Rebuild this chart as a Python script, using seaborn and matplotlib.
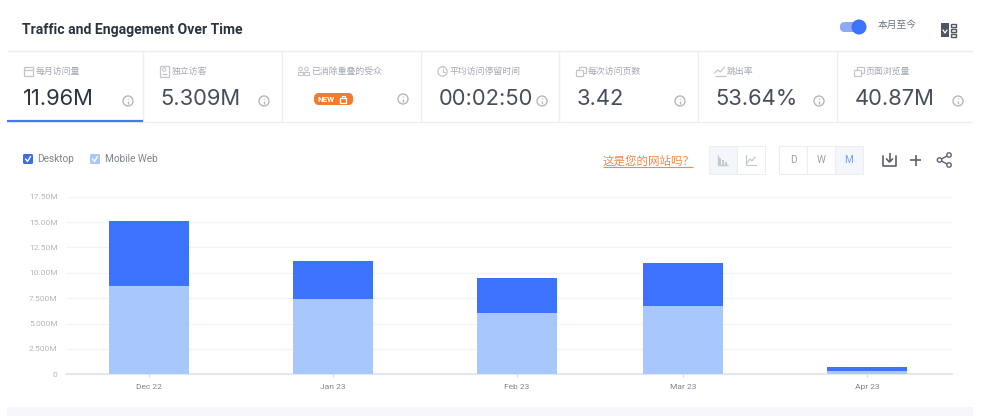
import matplotlib
matplotlib.use('Agg')
import matplotlib.pyplot as plt
import numpy as np
import pandas as pd
import seaborn as sns
from matplotlib.patches import Circle, FancyBboxPatch, Rectangle

# values, in millions
months = ['2022-12-01', '2023-01-01', '2023-02-01', '2023-03-01', '2023-04-01']
month_labels = ['Dec 22', 'Jan 23', 'Feb 23', 'Mar 23', 'Apr 23']
mobile_web = [8.73, 7.44, 6.00, 6.70, 0.36]
desktop = [6.42, 3.71, 3.50, 4.22, 0.33]
y_ticks = [0, 2.5, 5, 7.5, 10, 12.5, 15, 17.5]
y_tick_labels = ['0', '2.500M', '5.000M', '7.500M', '10.00M', '12.50M', '15.00M', '17.50M']

metric_names = ['每月访问量', '独立访客', '已消除重叠的受众', '平均访问停留时间', '每次访问页数', '跳出率', '页面浏览量']
metric_values = ['11.96M', '5.309M', '', '00:02:50', '3.42', '53.64%', '40.87M']

BLUE = '#3d72fe'
LIGHT = '#a8c7fd'
GREY = '#a3a9b2'
DARK = '#454e5c'
ICON = '#c3c7cc'

sns.set_theme(style='white')
plt.rcParams['font.family'] = ['Roboto', 'Noto Sans CJK SC', 'DejaVu Sans']

W, H = 1005, 416
fig = plt.figure(figsize=(W / 100, H / 100), dpi=100, facecolor='white')

# page furniture, in pixel coordinates
ui = fig.add_axes([0, 0, 1, 1])
ui.set_xlim(0, W)
ui.set_ylim(H, 0)
ui.axis('off')


def line(x0, y0, x1, y1, color='#eceef1', lw=1.0, **kw):
    ui.plot([x0, x1], [y0, y1], color=color, lw=lw, solid_capstyle='butt', **kw)


def box(x, y, w, h, color, pad=1.5, ec='none'):
    ui.add_patch(FancyBboxPatch((x + pad, y + pad), w - 2 * pad, h - 2 * pad,
                                boxstyle='round,pad=%s' % pad, fc=color, ec=ec, lw=0.8))


def info(x, y):
    ui.add_patch(Circle((x, y), 5, fc='none', ec='#b4b8bd', lw=1))
    line(x, y - 0.5, x, y + 2.5, color='#b4b8bd', lw=1)
    line(x, y - 2.6, x, y - 1.6, color='#b4b8bd', lw=1)


def card_icon(kind, x):
    # x is the left edge of the icon, all of them sit around y=71
    if kind == 'calendar':
        ui.add_patch(Rectangle((x, 67), 9.5, 9, fc='none', ec=ICON, lw=0.9))
        line(x, 69.5, x + 9.5, 69.5, color=ICON, lw=0.9)
    elif kind == 'person':
        ui.add_patch(Rectangle((x, 65.5), 9.5, 11, fc='none', ec=ICON, lw=0.9))
        ui.add_patch(Circle((x + 4.75, 69.5), 1.7, fc='none', ec=ICON, lw=0.8))
        line(x + 2, 74, x + 7.5, 74, color=ICON, lw=0.9)
    elif kind == 'people':
        for dx in (2, 8):
            ui.add_patch(Circle((x + dx, 69), 1.8, fc='none', ec=ICON, lw=0.8))
            ui.add_patch(Rectangle((x + dx - 2.3, 72), 4.6, 2.6, fc='none', ec=ICON, lw=0.8))
    elif kind == 'clock':
        ui.add_patch(Circle((x + 5, 71.5), 4.6, fc='none', ec=ICON, lw=0.9))
        ui.plot([x + 5, x + 5, x + 7], [68.8, 71.5, 71.5], color=ICON, lw=0.8)
        line(x + 3.5, 65.8, x + 6.5, 65.8, color=ICON, lw=0.9)
    elif kind == 'pages':
        ui.add_patch(Rectangle((x + 3, 66.5), 7, 6.5, fc='none', ec=ICON, lw=0.9))
        ui.add_patch(Rectangle((x, 69.5), 7, 6.5, fc='white', ec=ICON, lw=0.9, zorder=3))
    else:
        ui.plot([x, x + 3.5, x + 6, x + 10], [73, 70, 72, 67], color=ICON, lw=0.9)
        line(x, 75.5, x + 11, 75.5, color=ICON, lw=0.9)


ui.text(22, 30, 'Traffic and Engagement Over Time', fontsize=10.1, fontweight='bold',
        color='#2a3340', va='center')

# metric cards
line(7, 50.5, 973, 50.5)
line(7, 121.5, 973, 121.5)
cards = [7, 143, 282, 421, 559, 698, 837]
icons = ['calendar', 'person', 'people', 'clock', 'pages', 'trend', 'pages']
for card_x, name, value, icon in zip(cards, metric_names, metric_values, icons):
    if card_x > 7:
        line(card_x, 51, card_x, 121)
    card_icon(icon, card_x + 16.5)
    ui.text(card_x + 29, 71, name, fontsize=6.4, color=GREY, va='center')
    if value:
        ui.text(card_x + (15.5 if card_x == 7 else 17.5), 99, value, fontsize=15.8,
                color='#2b3442' if card_x == 7 else DARK, va='center', family=['Inter', 'DejaVu Sans'])
    info(card_x + 121, 101 if card_x != 282 else 99)
line(7, 121, 143, 121, color='#4a78e8', lw=1.6)

box(314, 93, 39, 12, '#f47b2b', pad=5)
ui.text(326, 99, 'NEW', fontsize=5.8, fontweight='bold', color='white', va='center', ha='center')
ui.add_patch(Rectangle((340, 97.5), 6, 5, fc='none', ec='white', lw=0.9))
ui.plot([341.5, 341.5, 344.5, 344.5], [97.5, 95.5, 95.5, 97.5], color='white', lw=0.8)

# toggle and export button
box(840, 22, 22, 10, '#8fa9f7', pad=4.5)
ui.add_patch(Circle((859, 27), 7.5, fc=BLUE, ec='none'))
ui.text(878, 25, '本月至今', fontsize=7, color='#6c7480', va='center')
ui.add_patch(Rectangle((941, 23), 8, 14, fc='#4b5563', ec='none'))
ui.plot([943, 945, 947], [30, 33, 30], color='white', lw=0.9)
for yy in (25, 30, 35):
    ui.add_patch(Rectangle((951, yy - 1.5), 5, 3, fc='none', ec='#4b5563', lw=1))

# legend
box(23, 154, 10, 10, '#3a6fe0')
ui.plot([25.5, 27.5, 30.5], [159, 161.5, 156.5], color='white', lw=1)
ui.text(37.5, 159, 'Desktop', fontsize=7.2, color='#7d848e', va='center')
box(90, 154, 10, 10, LIGHT)
ui.plot([92.5, 94.5, 97.5], [159, 161.5, 156.5], color='white', lw=1)
ui.text(105, 159, 'Mobile Web', fontsize=7.2, color='#7d848e', va='center')

# right hand controls
ui.text(603, 161, '这是您的网站吗？', fontsize=8.3, color='#ee8a4c', va='center')
line(603, 166.5, 693, 166.5, color='#ee8a4c', lw=0.8)
ui.add_patch(Rectangle((709, 146), 28, 28, fc='#f3f6fb', ec='#eceef2', lw=0.8))
ui.add_patch(Rectangle((737, 146), 28, 28, fc='white', ec='#eceef2', lw=0.8))
line(718, 155, 718, 165, color='#c4c9d0')
line(718, 165, 728, 165, color='#c4c9d0')
for bx, bh in zip((720, 723, 726), (7, 5, 3)):
    line(bx, 165, bx, 165 - bh, color='#c4c9d0', lw=1.4)
ui.plot([746, 746, 756], [155, 165, 165], color='#c4c9d0', lw=0.9)
ui.plot([747, 750, 752, 755], [163, 159, 161, 157], color='#c4c9d0', lw=0.9)
for i, (letter, col) in enumerate(zip('DWM', ['#9aa0a8', '#9aa0a8', '#7f9cf5'])):
    bx = 779 + i * 28
    ui.add_patch(Rectangle((bx, 146), 28, 28, fc='#f3f6fb' if letter == 'M' else 'white',
                           ec='#eceef2', lw=0.8))
    ui.text(bx + 14, 160, letter, fontsize=7.2, color=col, va='center', ha='center')

ui.plot([883, 883, 896, 896], [156, 166, 166, 156], color='#5a626e', lw=1.2)
line(889.5, 153, 889.5, 162, color='#5a626e', lw=1.2)
ui.plot([886.5, 889.5, 892.5], [159, 162, 159], color='#5a626e', lw=1.2)
line(910, 160, 921, 160, color='#5a626e', lw=1.2)
line(915.5, 154.5, 915.5, 165.5, color='#5a626e', lw=1.2)
ui.plot([949, 939.5, 949], [155, 160, 165], color='#5a626e', lw=1)
for sx, sy in ((949, 155), (939.5, 160), (949, 165)):
    ui.add_patch(Circle((sx, sy), 2.2, fc='white', ec='#5a626e', lw=1, zorder=3))

ui.add_patch(Rectangle((7, 407), 966, 9, fc='#f5f7fb', ec='none'))

# the chart
dates = pd.to_datetime(months)
df = pd.DataFrame({'day': (dates - dates[0]).days.astype(float),
                   'mobile': mobile_web, 'desktop': desktop})
df['total'] = df['mobile'] + df['desktop']

ax = fig.add_axes([66 / W, 1 - 374.3 / H, (952 - 66) / W, (374.3 - 196.7) / H])
ax.patch.set_alpha(0)
sns.barplot(data=df, x='day', y='total', native_scale=True, color=BLUE, saturation=1,
            width=0.482, errorbar=None, linewidth=0, ax=ax, zorder=3)
sns.barplot(data=df, x='day', y='mobile', native_scale=True, color=LIGHT, saturation=1,
            width=0.482, errorbar=None, linewidth=0, ax=ax, zorder=4)

px_per_day = 184 / 31
ax.set_xlim(-(149 - 66) / px_per_day, (952 - 149) / px_per_day)
ax.set_ylim(0, 17.5)
ax.set_xlabel('')
ax.set_ylabel('')
ax.set_yticks(y_ticks)
ax.set_yticklabels(y_tick_labels)
ax.set_xticks(df['day'])
ax.set_xticklabels(month_labels)
ax.grid(axis='y', color='#f3f4f6', lw=0.9, zorder=0)
ax.grid(axis='x', visible=False)
ax.set_axisbelow(True)
sns.despine(ax=ax, left=True, top=True, right=True)
ax.spines['bottom'].set_color('#dfe4ee')
ax.tick_params(axis='y', length=0, pad=6, labelsize=6, labelcolor='#b3b7bd')
ax.tick_params(axis='x', length=2, width=0.7, color='#cfd3da', pad=5, labelsize=6, labelcolor='#7f858e', bottom=True)

fig.savefig('out.png', dpi=100, facecolor='white')
